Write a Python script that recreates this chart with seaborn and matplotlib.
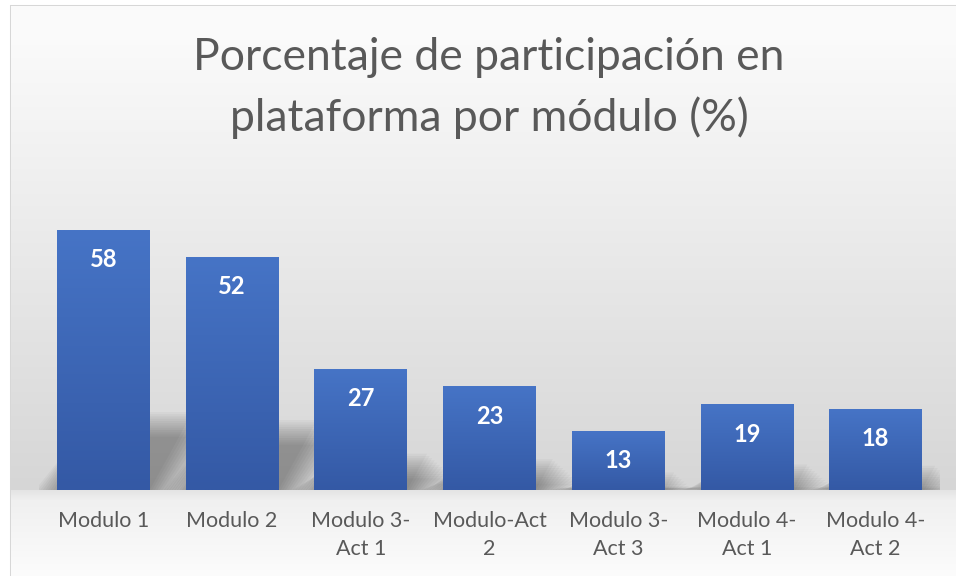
import numpy as np
import pandas as pd
import seaborn as sns
import matplotlib.pyplot as plt
from matplotlib.patches import Polygon

# data
modulos = ["Modulo 1", "Modulo 2", "Modulo 3-Act 1", "Modulo-Act 2",
           "Modulo 3-Act 3", "Modulo 4-Act 1", "Modulo 4-Act 2"]
porcentajes = [58, 52, 27, 23, 13, 19, 18]
tick_labels = ["Modulo 1", "Modulo 2", "Modulo 3-\nAct 1", "Modulo-Act\n2",
               "Modulo 3-\nAct 3", "Modulo 4-\nAct 1", "Modulo 4-\nAct 2"]
titulo = ["Porcentaje de participación en", "plataforma por módulo (%)"]

GRAY_TXT = "#595959"
TOP_BLUE = np.array([70, 116, 198]) / 255
BOT_BLUE = np.array([52, 89, 165]) / 255

sns.set_style("white")
plt.rcParams["font.family"] = ["Lato", "DejaVu Sans"]

W, H = 956, 576
fig = plt.figure(figsize=(W / 100, H / 100), dpi=100)

# chart background: soft grey gradient, white outside the border
rows = np.arange(H)
g = np.where(rows < 490,
             np.interp(rows, [5, 45, 490], [251, 250, 214]),
             np.interp(rows, [490, 500, 576], [228, 240, 252]))
bg_img = np.repeat(g[:, None], W, axis=1)
bg_img[:5, :] = 255
bg_img[:, :10] = 255
bg_img[5, 10:] = 215
bg_img[5:, 10] = 215
bg = fig.add_axes([0, 0, 1, 1], zorder=-10)
bg.imshow(np.dstack([bg_img] * 3) / 255, aspect="auto", extent=[0, 1, 0, 1])
bg.axis("off")

ax = fig.add_axes([39 / W, 86 / H, 901 / W, 313.6 / H])
ax.set_facecolor("none")

df = pd.DataFrame({"modulo": modulos, "porcentaje": porcentajes})
sns.barplot(data=df, x="modulo", y="porcentaje", color="#4472C4",
            saturation=1, width=0.72, ax=ax)

px_per_unit = 313.6 / 70
px_per_slot = 901 / 7
grad = np.linspace(TOP_BLUE, BOT_BLUE, 100)[:, None, :]

for p, v in zip(ax.patches, porcentajes):
    x0, w, h = p.get_x(), p.get_width(), p.get_height()
    p.set_visible(False)
    ax.imshow(grad, aspect="auto", extent=[x0, x0 + w, 0, h], zorder=3,
              interpolation="bilinear")
    # perspective shadow, blurred by stacking layers
    sh = 0.3 * h
    shift = 0.55 * sh * px_per_unit / px_per_slot
    for k in range(12):
        e = 0.02 * k
        ev = 0.5 * k
        poly = Polygon([(x0 + 0.05 - e, 0), (x0 + w + e, 0),
                        (x0 + w + shift + e, max(sh - ev, 0.5)),
                        (x0 + 0.05 + shift - e, max(sh - ev, 0.5))],
                       closed=True, facecolor="black", edgecolor="none",
                       alpha=0.03, zorder=1.5)
        ax.add_patch(poly)
    ax.annotate(str(v), (x0 + w / 2, h), xytext=(0, -21),
                textcoords="offset points", ha="center", va="center",
                color="white", fontsize=17, fontweight="bold", zorder=5)

ax.set_xlim(-0.5, 6.5)
ax.set_ylim(0, 70)
ax.set_xticks(range(len(tick_labels)))
ax.set_xticklabels(tick_labels, fontsize=15.5, color=GRAY_TXT, linespacing=1.5)
ax.tick_params(axis="x", length=0, pad=15)
ax.set_yticks([])
ax.set_xlabel("")
ax.set_ylabel("")
sns.despine(ax=ax, left=True, bottom=True)

fig.text(489 / W, 1 - 58 / H, titulo[0], ha="center", va="center",
         fontsize=32, color=GRAY_TXT)
fig.text(489 / W, 1 - 118 / H, titulo[1], ha="center", va="center",
         fontsize=32, color=GRAY_TXT)

fig.savefig("out.png", dpi=100)
